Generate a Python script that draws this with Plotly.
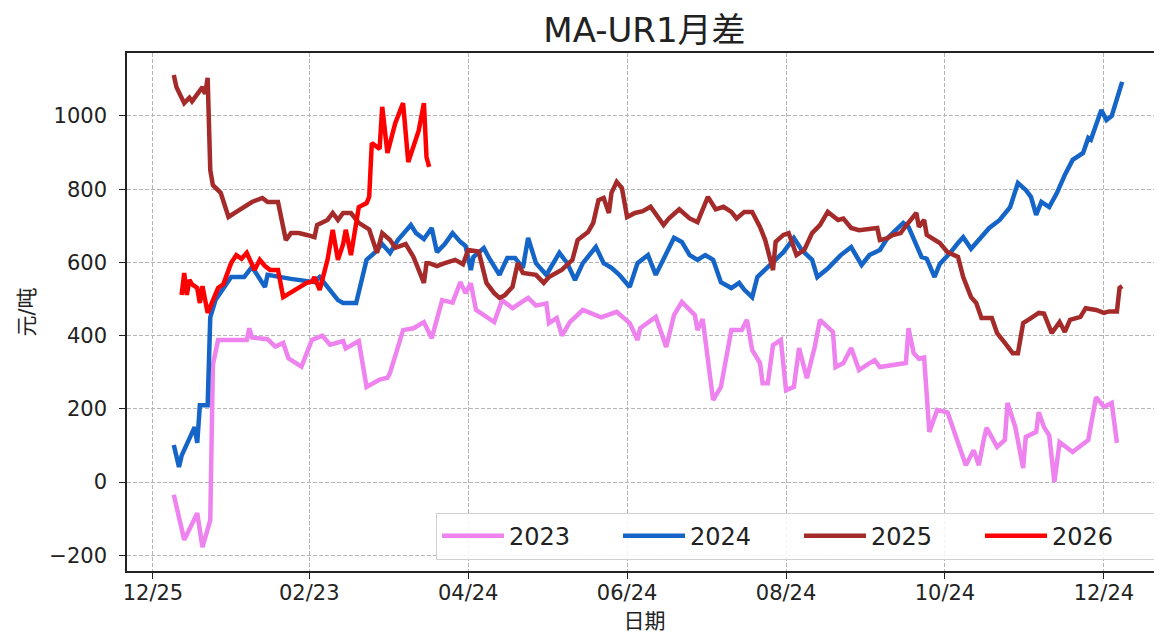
import pandas as pd
import plotly.graph_objects as go

# ---- data (day offset from Jan 1 of a common leap year, value in 元/吨) ----
days_2023 = [1,5,10,12,15,16,18,29,30,31,37,40,43,45,50,52,54,58,61,66,
             67,72,75,80,83,84,89,93,97,100,104,108,111,113,115,117,124,127,131,137,
             140,144,145,148,150,153,158,165,171,176,179,180,186,190,193,196,201,202,204,208,
             211,215,219,221,223,226,227,229,231,234,236,239,241,244,247,249,254,255,258,261,
             264,267,270,272,282,283,285,287,289,291,294,298,305,308,310,312,313,317,320,321,
             324,327,328,332,333,335,337,339,341,346,352,355,358,361,363]
vals_2023 = [-35,-158,-85,-178,-104,320,388,388,420,395,390,370,380,338,315,350,388,400,375,385,
             365,385,260,280,285,298,415,420,437,393,497,490,546,516,543,470,437,497,475,503,
             482,488,434,448,400,437,470,450,465,434,388,420,451,369,456,492,456,415,445,224,
             260,415,415,443,361,325,270,270,374,388,251,260,366,284,369,443,410,314,325,366,
             306,320,333,314,325,420,352,337,340,137,197,190,46,87,46,120,148,96,115,216,
             150,38,123,137,191,150,128,0,109,82,115,232,205,216,107]

days_2024 = [1,3,4,8,9,10,11,14,15,17,23,28,31,36,37,46,55,57,64,66,
             71,75,78,81,84,87,92,94,97,100,102,105,108,111,113,115,116,120,122,126,
             129,132,135,137,140,144,149,152,155,158,163,166,169,172,176,179,183,186,189,193,
             196,199,202,205,208,211,215,218,220,223,225,231,235,239,242,246,248,252,257,261,
             265,268,272,275,281,283,288,290,293,295,299,302,304,307,310,314,318,322,325,328,
             330,332,334,337,340,343,346,350,352,353,357,359,361,365]
vals_2024 = [101,41,72,134,150,107,210,210,450,497,560,560,588,533,566,555,546,560,497,489,
             489,607,626,650,626,661,702,680,664,694,628,650,680,656,645,579,615,639,612,566,
             612,612,585,667,598,566,626,598,552,598,642,598,585,566,533,598,620,566,607,667,
             656,620,607,620,607,546,530,544,525,505,560,601,628,667,634,607,560,583,620,642,
             593,620,634,667,708,697,615,610,560,596,626,653,669,637,661,694,716,751,817,798,
             779,730,765,751,790,839,880,899,940,935,1016,989,1000,1093]

days_2025 = [1,2,5,7,8,12,13,14,15,16,19,20,22,25,31,35,37,41,44,46,
             49,52,55,56,60,62,64,66,69,72,76,79,81,84,86,90,93,97,98,99,
             102,105,109,112,114,118,121,124,126,128,131,133,135,140,143,145,148,150,154,156,
             160,162,164,166,168,169,171,173,175,178,181,184,189,191,195,199,202,206,209,212,
             215,217,220,223,226,228,231,232,235,237,240,243,246,249,252,256,258,261,264,268,
             271,272,275,277,280,282,286,287,289,290,295,298,302,304,307,309,311,315,317,320,
             323,325,327,330,333,335,338,341,343,345,349,351,355,358,360,363,364,365]
vals_2025 = [1112,1079,1035,1050,1040,1079,1060,1104,852,811,790,770,724,738,765,776,765,765,661,680,
             680,675,669,702,716,735,716,735,735,708,690,626,680,661,640,650,615,544,598,598,
             590,598,607,595,634,630,544,516,503,510,533,598,571,566,544,560,571,580,607,661,
             683,708,770,776,735,790,820,803,724,735,740,752,702,720,745,720,710,779,745,752,
             738,720,738,738,697,661,579,656,675,680,620,634,680,702,738,716,720,694,688,690,
             694,661,666,675,680,700,735,697,716,675,653,628,615,560,505,489,448,448,407,380,
             352,352,434,448,462,460,407,437,410,443,451,475,470,462,466,466,530,535]

days_2026 = [4,5,6,7,8,10,11,12,14,16,18,20,23,25,27,29,32,34,36,38,
             41,43,48,52,54,55,57,60,62,64,66,67,69,71,72,75,76,77,80,81,
             83,86,89,91,93,95,97,98,99]
vals_2026 = [511,571,511,552,540,530,489,535,462,497,530,540,598,620,610,626,579,607,590,579,
             579,505,525,544,547,560,525,607,689,607,650,689,620,708,751,762,779,926,910,1025,
             899,980,1035,874,915,960,1035,888,861]

series_names = ["2023", "2024", "2025", "2026"]
series_colors = ["#EE82EE", "#1565C8", "#A52A2A", "#FF0000"]

tick_dates = ["2023-12-25", "2024-02-23", "2024-04-24", "2024-06-24",
              "2024-08-24", "2024-10-24", "2024-12-24"]
tick_labels = ["12/25", "02/23", "04/24", "06/24", "08/24", "10/24", "12/24"]
y_ticks = [-200, 0, 200, 400, 600, 800, 1000]
y_tick_labels = ["\u2212200", "0", "200", "400", "600", "800", "1000"]

base = pd.Timestamp("2024-01-01")


def to_dates(days):
    return [base + pd.Timedelta(days=d) for d in days]


all_days = [days_2023, days_2024, days_2025, days_2026]
all_vals = [vals_2023, vals_2024, vals_2025, vals_2026]

FONT = "DejaVu Sans, Noto Sans CJK SC, sans-serif"

fig = go.Figure()
for name, color, d, v in zip(series_names, series_colors, all_days, all_vals):
    fig.add_trace(go.Scatter(x=to_dates(d), y=v, mode="lines", name=name,
                             line=dict(color=color, width=4.5)))

x_left = base + pd.Timedelta(days=-16.96)
x_right = base + pd.Timedelta(days=380.3)

# the page body adds an 8px margin, so the figure is 8px smaller than the window
W, H = 1154, 629
fig.update_layout(
    width=W, height=H,
    margin=dict(l=119, r=0, t=45, b=66, autoexpand=False),
    paper_bgcolor="white", plot_bgcolor="white",
    font=dict(family=FONT, size=21, color="#222222"),
    title=dict(text="MA-UR1月差", x=0.5, xref="paper", xanchor="center",
               y=1 - 22 / H, yanchor="middle",
               font=dict(family=FONT, size=34, color="#222222")),
    showlegend=True,
    legend=dict(orientation="h", x=1.0, xanchor="right", y=0.022, yanchor="bottom",
                bgcolor="rgba(255,255,255,0.85)", bordercolor="#d0d0d0", borderwidth=1,
                font=dict(family=FONT, size=24, color="#222222"),
                itemwidth=62, entrywidth=104, entrywidthmode="pixels",
                traceorder="normal"),
)

fig.update_xaxes(
    type="date", range=[x_left, x_right], automargin=False,
    tickvals=to_dates([(pd.Timestamp(t) - base).days for t in tick_dates]),
    ticktext=tick_labels,
    showline=True, linecolor="#222222", linewidth=1.5, mirror=True,
    ticks="outside", ticklen=6, tickcolor="#222222", tickwidth=1.2,
    ticklabelstandoff=-4,
    showgrid=True, gridcolor="#b5b5b5", gridwidth=0.8, griddash="4px,2px",
    zeroline=False,
    title=dict(text="日期", standoff=9, font=dict(family=FONT, size=21)),
)
fig.update_yaxes(
    range=[-243, 1172], automargin=False,
    tickvals=y_ticks, ticktext=y_tick_labels,
    showline=True, linecolor="#222222", linewidth=1.5,
    ticks="outside", ticklen=6, tickcolor="#222222", tickwidth=1.2,
    ticklabelstandoff=8,
    showgrid=True, gridcolor="#b5b5b5", gridwidth=0.8, griddash="4px,2px",
    zeroline=False,
    title=dict(text="元/吨", standoff=9, font=dict(family=FONT, size=21)),
)

fig.write_html("out.html")
